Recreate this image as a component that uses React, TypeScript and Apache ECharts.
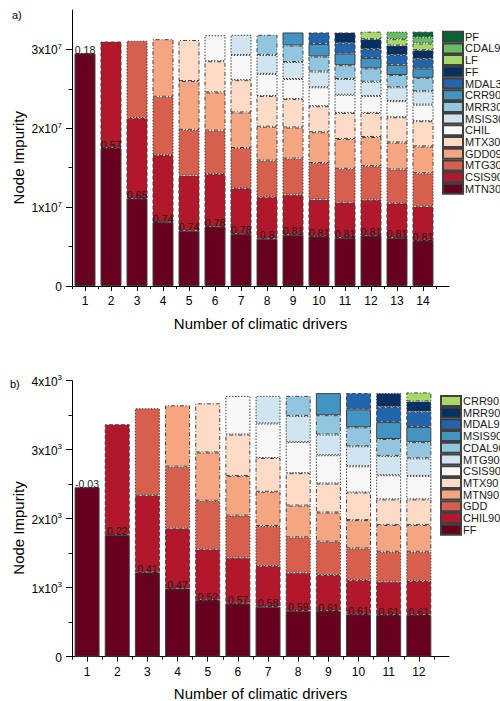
import React, { useEffect, useRef } from 'react';
import * as echarts from 'echarts';

const FONT = '"Liberation Sans", Arial, Helvetica, sans-serif';
const _ = null;

// ---------- Panel a ----------
const driversA = [1, 2, 3, 4, 5, 6, 7, 8, 9, 10, 11, 12, 13, 14];
const labelsA = ['0.18', '0.57', '0.65', '0.74', '0.74', '0.78', '0.78', '0.8', '0.81', '0.81', '0.81', '0.81', '0.81', '0.81'];
const yTicksA = [0, 1e7, 2e7, 3e7];
const yMinorA = [0.5e7, 1.5e7, 2.5e7];
// segment heights, in units of 10^6
const MTN30 = [29.5, 17.5, 11.1, 8.1, 7.0, 7.55, 6.6, 6.0, 6.5, 6.3, 6.1, 6.4, 6.1, 5.8];
const CSIS90_A = [_, 13.5, 10.2, 8.5, 7.0, 6.65, 5.8, 5.27, 5.07, 4.67, 4.5, 4.54, 4.4, 4.3];
const MTG30 = [_, _, 9.8, 7.4, 5.8, 5.5, 5.1, 4.63, 4.58, 4.63, 4.26, 4.26, 4.27, 4.2];
const GDD090 = [_, _, _, 7.3, 6.2, 4.85, 4.5, 4.3, 3.95, 3.9, 3.79, 3.7, 3.43, 3.4];
const MTX30 = [_, _, _, _, 5.2, 3.95, 4.1, 3.9, 3.6, 3.3, 3.3, 3.05, 3.2, 3.2];
const CHIL_A = [_, _, _, _, _, 3.3, 3.2, 2.8, 2.55, 2.4, 2.3, 2.15, 2.05, 2.1];
const MSIS30 = [_, _, _, _, _, _, 2.56, 2.4, 2.15, 2.0, 2.0, 1.8, 1.75, 1.7];
const MRR30 = [_, _, _, _, _, _, _, 2.56, 2.1, 1.9, 1.75, 1.7, 1.55, 1.7];
const CRR90_A = [_, _, _, _, _, _, _, _, 1.65, 1.6, 1.5, 1.3, 1.3, 1.2];
const MDAL30 = [_, _, _, _, _, _, _, _, _, 1.45, 1.3, 1.15, 1.25, 1.2];
const FF_A = [_, _, _, _, _, _, _, _, _, _, 1.35, 1.25, 1.2, 1.1];
const LF_A = [_, _, _, _, _, _, _, _, _, _, _, 0.95, 0.8, 0.85];
const CDAL90_A = [_, _, _, _, _, _, _, _, _, _, _, _, 0.95, 0.8];
const PF_A = [_, _, _, _, _, _, _, _, _, _, _, _, _, 0.7];

// ---------- Panel b ----------
const driversB = [1, 2, 3, 4, 5, 6, 7, 8, 9, 10, 11, 12];
const labelsB = ['-0.03', '0.22', '0.41', '0.47', '0.52', '0.57', '0.58', '0.59', '0.61', '0.61', '0.61', '0.61'];
const yTicksB = [0, 1000, 2000, 3000, 4000];
const yMinorB = [500, 1500, 2500, 3500];
const FF_B = [2455, 1764, 1223, 990, 820, 773, 725, 667, 662, 614, 604, 604];
const CHIL90_B = [_, 1604, 1117, 870, 736, 662, 589, 550, 522, 496, 483, 493];
const GDD_B = [_, _, 1260, 894, 704, 610, 580, 513, 483, 460, 433, 423];
const MTN90_B = [_, _, _, 889, 700, 575, 496, 460, 423, 410, 390, 390];
const MTX90_B = [_, _, _, _, 712, 600, 490, 470, 420, 400, 370, 370];
const CSIS90_B = [_, _, _, _, _, 560, 500, 450, 410, 380, 350, 340];
const MTG90_B = [_, _, _, _, _, _, 400, 380, 300, 290, 280, 255];
const CDAL90_B = [_, _, _, _, _, _, _, 290, 280, 275, 245, 235];
const MSIS90_B = [_, _, _, _, _, _, _, _, 320, 260, 245, 220];
const MDAL90_B = [_, _, _, _, _, _, _, _, _, 235, 220, 220];
const MRR90_B = [_, _, _, _, _, _, _, _, _, _, 200, 150];
const CRR90_B = [_, _, _, _, _, _, _, _, _, _, _, 130];

const DASHDOT = [4, 2, 1, 2];
const DOT = [1.5, 1.5];
const DASH = [4, 2];

const defsA = [
  { name: 'MTN30', data: MTN30, color: '#67001f', border: 'solid' },
  { name: 'CSIS90', data: CSIS90_A, color: '#b2182b', border: DASH },
  { name: 'MTG30', data: MTG30, color: '#d6604d', border: DOT },
  { name: 'GDD090', data: GDD090, color: '#f4a582', border: DASHDOT },
  { name: 'MTX30', data: MTX30, color: '#fddbc7', border: DASHDOT },
  { name: 'CHIL', data: CHIL_A, color: '#f7f7f7', border: DOT },
  { name: 'MSIS30', data: MSIS30, color: '#d1e5f0', border: DOT },
  { name: 'MRR30', data: MRR30, color: '#92c5de', border: DASHDOT },
  { name: 'CRR90', data: CRR90_A, color: '#4393c3', border: 'solid' },
  { name: 'MDAL30', data: MDAL30, color: '#2166ac', border: DASH },
  { name: 'FF', data: FF_A, color: '#053061', border: DASH },
  { name: 'LF', data: LF_A, color: '#a6d96a', border: DASHDOT },
  { name: 'CDAL90', data: CDAL90_A, color: '#66bd63', border: DOT },
  { name: 'PF', data: PF_A, color: '#006837', border: DASH },
];

const defsB = [
  { name: 'FF', data: FF_B, color: '#67001f', border: 'solid' },
  { name: 'CHIL90', data: CHIL90_B, color: '#b2182b', border: DASH },
  { name: 'GDD', data: GDD_B, color: '#d6604d', border: DOT },
  { name: 'MTN90', data: MTN90_B, color: '#f4a582', border: DASHDOT },
  { name: 'MTX90', data: MTX90_B, color: '#fddbc7', border: DASHDOT },
  { name: 'CSIS90', data: CSIS90_B, color: '#f7f7f7', border: DOT },
  { name: 'MTG90', data: MTG90_B, color: '#d1e5f0', border: DOT },
  { name: 'CDAL90', data: CDAL90_B, color: '#92c5de', border: DASHDOT },
  { name: 'MSIS90', data: MSIS90_B, color: '#4393c3', border: 'solid' },
  { name: 'MDAL90', data: MDAL90_B, color: '#2166ac', border: DASH },
  { name: 'MRR90', data: MRR90_B, color: '#053061', border: DOT },
  { name: 'CRR90', data: CRR90_B, color: '#a6d96a', border: DASHDOT },
];

type Def = { name: string; data: (number | null)[]; color: string; border: any };

function buildOption(cfg: {
  drivers: number[];
  defs: Def[];
  scale: number;
  labels: string[];
  yMax: number;
  yTicks: number[];
  yMinor: number[];
  exp: number;
  gridTop: number;
  barWidth: number;
  legendLeft: number;
  legendTop: number;
  tag: string;
  tagX: number;
  tagY: number;
  yNameY: number;
  xNameY: number;
}) {
  const n = cfg.drivers.length;
  const positions = Array.from({ length: 2 * n + 2 }, (_v, k) => String((k + 1) / 2));
  const driverSet = new Set(cfg.drivers.map(String));
  const isDriver = (_i: number, v: string) => driverSet.has(v);
  const isHalf = (_i: number, v: string) => !Number.isInteger(Number(v));
  const toSeriesData = (vals: (number | null)[]) => {
    const out: any[] = positions.map(() => '-');
    cfg.drivers.forEach((d, j) => {
      const v = vals[j];
      out[2 * d - 1] = v == null ? '-' : v * cfg.scale;
    });
    return out;
  };
  const series = cfg.defs.map((d, i) => ({
    type: 'bar',
    name: d.name,
    stack: 'total',
    barWidth: cfg.barWidth,
    xAxisIndex: 0,
    yAxisIndex: 0,
    data: toSeriesData(d.data),
    itemStyle: { color: d.color, borderColor: '#404040', borderWidth: 1, borderType: d.border },
    label:
      i === 0
        ? {
            show: true,
            position: 'top',
            distance: -2,
            fontSize: 10.5,
            fontFamily: FONT,
            color: '#1a1a1a',
            formatter: (p: any) => cfg.labels[(p.dataIndex + 1) / 2 - 1],
          }
        : { show: false },
    z: i === 0 ? 5 : 2,
  }));
  const axisColor = '#000';
  const yFormatter = (v: number) =>
    v === 0 ? '{b|0}' : `{b|${Math.round(v / Math.pow(10, cfg.exp))}x10}{s|${cfg.exp}}`;
  return {
    animation: false,
    textStyle: { fontFamily: FONT },
    grid: { left: 72, top: cfg.gridTop, width: 377, height: 276 },
    xAxis: [
      {
        type: 'category',
        data: positions,
        boundaryGap: false,
        position: 'bottom',
        axisLine: { show: true, lineStyle: { color: axisColor, width: 1 } },
        axisTick: { show: true, interval: isDriver, length: 5, lineStyle: { color: axisColor } },
        axisLabel: { interval: isDriver, margin: 9, fontSize: 12, color: '#000', fontFamily: FONT },
        splitLine: { show: false },
      },
      {
        type: 'category',
        data: positions,
        boundaryGap: false,
        position: 'bottom',
        axisLine: { show: false },
        axisTick: { show: true, interval: isHalf, length: 3, lineStyle: { color: axisColor } },
        axisLabel: { show: false },
        splitLine: { show: false },
      },
    ],
    yAxis: [
      {
        type: 'value',
        min: 0,
        max: cfg.yMax,
        position: 'left',
        axisLine: { show: true, lineStyle: { color: axisColor, width: 1 } },
        axisTick: { show: true, customValues: cfg.yTicks, length: 6, lineStyle: { color: axisColor } },
        axisLabel: {
          customValues: cfg.yTicks,
          margin: 10,
          formatter: yFormatter,
          rich: {
            b: { fontSize: 12, color: '#000', fontFamily: FONT, lineHeight: 14, verticalAlign: 'bottom' },
            s: { fontSize: 8, color: '#000', fontFamily: FONT, lineHeight: 14, verticalAlign: 'top', padding: [0, 0, 6, 0] },
          },
        },
        splitLine: { show: false },
      },
      {
        type: 'value',
        min: 0,
        max: cfg.yMax,
        position: 'left',
        axisLine: { show: false },
        axisTick: { show: true, customValues: cfg.yMinor, length: 3.5, lineStyle: { color: axisColor } },
        axisLabel: { show: false },
        splitLine: { show: false },
      },
    ],
    legend: {
      orient: 'vertical',
      left: cfg.legendLeft,
      top: cfg.legendTop,
      padding: 0,
      itemWidth: 20,
      itemHeight: 10,
      itemGap: -0.3,
      icon: 'rect',
      selectedMode: false,
      data: cfg.defs.map((d) => d.name).reverse(),
      textStyle: { fontSize: 11, lineHeight: 10, color: '#1a1a1a', fontFamily: FONT, padding: [0, 0, 0, -3] },
    },
    graphic: [
      {
        type: 'text',
        x: cfg.tagX,
        y: cfg.tagY,
        style: { text: cfg.tag, fontSize: 11, fontFamily: FONT, fill: '#000', verticalAlign: 'middle' },
      },
      {
        type: 'text',
        x: 18,
        y: cfg.yNameY,
        rotation: Math.PI / 2,
        style: {
          text: 'Node Impurity',
          fontSize: 15,
          fontFamily: FONT,
          fill: '#000',
          align: 'center',
          verticalAlign: 'middle',
        },
      },
      {
        type: 'text',
        x: 260.5,
        y: cfg.xNameY,
        style: {
          text: 'Number of climatic drivers',
          fontSize: 15,
          fontFamily: FONT,
          fill: '#000',
          align: 'center',
          verticalAlign: 'middle',
        },
      },
    ],
    series,
  };
}

function Chart({ option, height }: { option: any; height: number }) {
  const ref = useRef<HTMLDivElement>(null);
  useEffect(() => {
    if (!ref.current) return;
    const chart = echarts.init(ref.current, undefined, { renderer: 'svg' });
    chart.setOption(option);
    return () => chart.dispose();
  }, [option]);
  return <div ref={ref} style={{ width: 500, height }} />;
}

const optionA = buildOption({
  drivers: driversA,
  defs: defsA,
  scale: 1e6,
  labels: labelsA,
  yMax: 3.5e7,
  yTicks: yTicksA,
  yMinor: yMinorA,
  exp: 7,
  gridTop: 10,
  barWidth: 21,
  legendLeft: 442,
  legendTop: 30.7,
  tag: 'a)',
  tagX: 12,
  tagY: 15,
  yNameY: 157.7,
  xNameY: 323,
});

const optionB = buildOption({
  drivers: driversB,
  defs: defsB,
  scale: 1,
  labels: labelsB,
  yMax: 4000,
  yTicks: yTicksB,
  yMinor: yMinorB,
  exp: 3,
  gridTop: 30.7,
  barWidth: 25,
  legendLeft: 440,
  legendTop: 45,
  tag: 'b)',
  tagX: 10,
  tagY: 34,
  yNameY: 178,
  xNameY: 343,
});

export default function App() {
  return (
    <div style={{ position: 'absolute', left: 0, top: 0, width: 500, height: 701, background: '#fff' }}>
      <Chart option={optionA} height={350} />
      <Chart option={optionB} height={351} />
    </div>
  );
}
